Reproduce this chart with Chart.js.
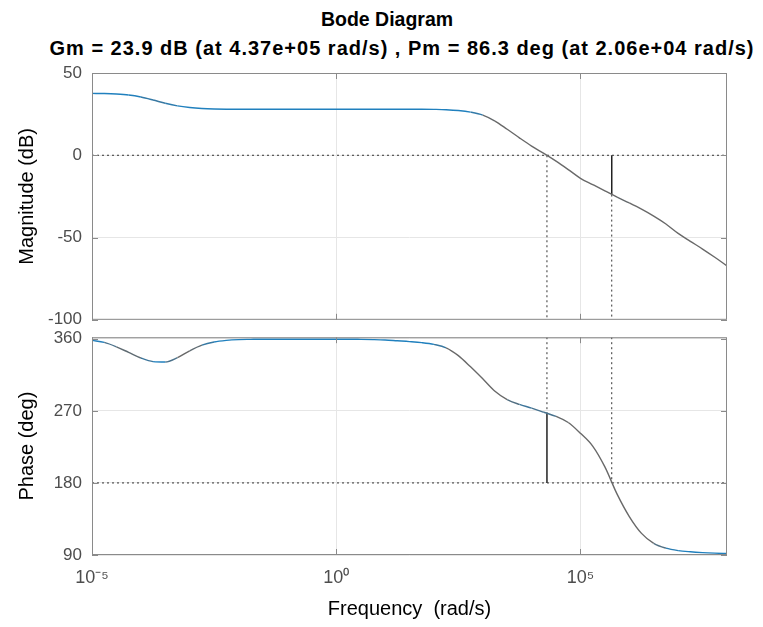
<!DOCTYPE html>
<html>
<head>
<meta charset="utf-8">
<script src="https://cdn.jsdelivr.net/npm/chart.js@4.4.1/dist/chart.umd.min.js"></script>
<style>
  html, body { margin: 0; padding: 0; background: #fff; }
  #wrap { position: relative; width: 763px; height: 627px; overflow: hidden; font-family: "Liberation Sans", Arial, sans-serif; }
  .ttl { position: absolute; text-align: center; font-weight: bold; color: #000; white-space: nowrap; }
  #ttl1 { top: 8px; left: 187px; width: 400px; font-size: 19.5px; }
  #ttl2 { top: 37px; left: 0; width: 804px; font-size: 20px; letter-spacing: 1px; }
  #magChart { position: absolute; left: 0; top: 0; }
  #phaseChart { position: absolute; left: 0; top: 317px; }
</style>
</head>
<body>
<div id="wrap">
  <div class="ttl" id="ttl1">Bode Diagram</div>
  <div class="ttl" id="ttl2">Gm = 23.9 dB (at 4.37e+05 rad/s) ,  Pm = 86.3 deg (at 2.06e+04 rad/s)</div>
  <canvas id="magChart" width="763" height="340"></canvas>
  <canvas id="phaseChart" width="763" height="310"></canvas>
</div>
<script>
// frequency exponents (log10 of rad/s) for the sampled points
const freqExp = [-5, -4.75, -4.5, -4.25, -4, -3.75, -3.5, -3.25, -3, -2.75, -2.5, -2.25, -2, -1.75, -1.5, -1.25, -1, -0.75, -0.5, -0.25,
  0, 0.25, 0.5, 0.75, 1, 1.25, 1.5, 1.75, 2, 2.25, 2.5, 2.75, 3, 3.25, 3.5, 3.75, 4, 4.25, 4.5, 4.75,
  5, 5.25, 5.5, 5.75, 6, 6.25, 6.5, 6.75, 7, 7.25, 7.5, 7.75, 8];
const magDb = [37.6, 37.5, 37.2, 36.6, 35.4, 33.6, 31.6, 30.0, 29.0, 28.4, 28.1, 28.0, 28.0, 28.0, 28.0, 28.0, 28.0, 28.0, 28.0, 28.0,
  28.0, 28.0, 28.0, 28.0, 28.0, 28.0, 28.0, 28.0, 27.9, 27.7, 27.2, 26.2, 24.4, 20.8, 15.8, 10.6, 5.6, 1.1, -3.6, -8.7,
  -14.0, -17.8, -21.6, -25.4, -29.0, -32.8, -37.0, -41.8, -47.5, -52.3, -57.0, -62.0, -67.2];
const phaseDeg = [358, 355.5, 350, 343, 336, 331.5, 331, 336.5, 345, 352, 356, 358, 359, 359.3, 359.5, 359.5, 359.5, 359.5, 359.5, 359.5,
  359.5, 359.5, 359.3, 359, 358.5, 357.5, 356.5, 355.2, 353, 348.8, 339, 325, 310, 294.5, 284, 278, 273.5, 268.3, 263, 255.5,
  242, 226, 200, 166, 138, 117, 104.5, 98.5, 95.5, 94, 93, 92.3, 91.8];

const xTickExp = [-5, 0, 5];
const magTicks = [-100, -50, 0, 50];
const phaseTicks = [90, 180, 270, 360];
const freqMin = 1e-5, freqMax = 1e8;
const magMin = -100, magMax = 50;
const phaseMin = 90, phaseMax = 362;

// margins from the title
const gmDb = 23.9, gmFreq = 4.37e5;
const pmDeg = 86.3, pmFreq = 2.06e4;

const supMap = {'-': '⁻', '0': '⁰', '1': '¹', '2': '²', '3': '³', '4': '⁴', '5': '⁵', '6': '⁶', '7': '⁷', '8': '⁸', '9': '⁹'};
const fmtPow = v => '10' + String(Math.round(Math.log10(v))).split('').map(c => supMap[c]).join('');

// blue where the curve is flat, greyish where it is steep (like the screenshot)
function curveColor(ctx) {
  const dx = Math.abs(ctx.p1.x - ctx.p0.x) || 1;
  const dy = Math.abs(ctx.p1.y - ctx.p0.y);
  const t = Math.min(1, Math.max(0, (dy / dx - 0.15) / 0.35));
  const a = [32, 128, 190], b = [105, 105, 105];
  const c = a.map((v, i) => Math.round(v + (b[i] - v) * t));
  return `rgb(${c[0]},${c[1]},${c[2]})`;
}

const framePlugin = {
  id: 'frame',
  afterDatasetsDraw(chart) {
    const {ctx, chartArea: a, scales} = chart;
    ctx.save();
    ctx.strokeStyle = '#8a8a8a';
    ctx.lineWidth = 1;
    ctx.strokeRect(a.left + 0.5, a.top + 0.5, a.width - 1, a.height - 1);
    ctx.beginPath();
    scales.y.ticks.forEach(t => {
      const y = Math.round(scales.y.getPixelForValue(t.value)) + 0.5;
      ctx.moveTo(a.left, y); ctx.lineTo(a.left + 6, y);
      ctx.moveTo(a.right, y); ctx.lineTo(a.right - 6, y);
    });
    scales.x.ticks.forEach(t => {
      const x = Math.round(scales.x.getPixelForValue(t.value)) + 0.5;
      ctx.moveTo(x, a.bottom); ctx.lineTo(x, a.bottom - 6);
      ctx.moveTo(x, a.top); ctx.lineTo(x, a.top + 6);
    });
    ctx.stroke();
    ctx.restore();
  }
};

const refLine = (pts, dashed) => ({
  data: pts, borderColor: dashed ? '#333' : '#222', borderWidth: dashed ? 1 : 1.5,
  borderDash: dashed ? [2, 3] : [], pointRadius: 0, tension: 0, order: 2
});

const curve = vals => ({
  data: freqExp.map((e, i) => ({x: 10 ** e, y: vals[i]})),
  borderWidth: 1.4, pointRadius: 0, cubicInterpolationMode: 'monotone', order: 0,
  borderColor: '#2080be', segment: {borderColor: curveColor}
});

const gridCfg = {color: '#e6e6e6', drawTicks: false};

function xScale(showLabels) {
  return {
    type: 'logarithmic', min: freqMin, max: freqMax,
    afterBuildTicks: s => { s.ticks = xTickExp.map(e => ({value: 10 ** e})); },
    grid: gridCfg, border: {display: false},
    ticks: {display: showLabels, color: '#4d4d4d', font: {size: 18}, padding: 12, callback: v => fmtPow(v), maxRotation: 0},
    title: {display: showLabels, text: 'Frequency  (rad/s)', color: '#000', font: {size: 20}, padding: {top: 0, bottom: 6}},
    afterFit: s => { s.height = showLabels ? 72 : 0; }
  };
}

function yScale(min, max, ticks, label) {
  return {
    min, max,
    afterBuildTicks: s => { s.ticks = ticks.map(v => ({value: v})); },
    grid: gridCfg, border: {display: false},
    ticks: {color: '#4d4d4d', font: {size: 17}, padding: 10},
    title: {display: true, text: label, color: '#000', font: {size: 20}, padding: {top: 15, bottom: 0}},
    afterFit: s => { s.width = 92; }
  };
}

const baseOpts = {
  responsive: false, animation: false, devicePixelRatio: 1,
  plugins: {legend: {display: false}, tooltip: {enabled: false}},
  elements: {line: {fill: false}}
};

Chart.defaults.font.family = '"Liberation Sans", Arial, sans-serif';

new Chart(document.getElementById('magChart'), {
  type: 'line',
  data: {
    datasets: [
      curve(magDb),
      refLine([{x: freqMin, y: 0}, {x: freqMax, y: 0}], true),
      refLine([{x: pmFreq, y: 0}, {x: pmFreq, y: magMin}], true),
      refLine([{x: gmFreq, y: -gmDb}, {x: gmFreq, y: magMin}], true),
      refLine([{x: gmFreq, y: 0}, {x: gmFreq, y: -gmDb}], false),
    ]
  },
  options: {
    ...baseOpts,
    layout: {padding: {top: 73, right: 36, bottom: 1, left: 0}},
    scales: {x: xScale(false), y: yScale(magMin, magMax, magTicks, 'Magnitude (dB)')}
  },
  plugins: [framePlugin]
});

new Chart(document.getElementById('phaseChart'), {
  type: 'line',
  data: {
    datasets: [
      curve(phaseDeg),
      refLine([{x: freqMin, y: 180}, {x: freqMax, y: 180}], true),
      refLine([{x: pmFreq, y: phaseMax}, {x: pmFreq, y: 180 + pmDeg}], true),
      refLine([{x: gmFreq, y: phaseMax}, {x: gmFreq, y: 180}], true),
      refLine([{x: pmFreq, y: 180}, {x: pmFreq, y: 180 + pmDeg}], false),
    ]
  },
  options: {
    ...baseOpts,
    layout: {padding: {top: 7, right: 36, bottom: 0, left: 0}},
    scales: {x: xScale(true), y: yScale(phaseMin, phaseMax, phaseTicks, 'Phase (deg)')}
  },
  plugins: [framePlugin]
});
</script>
</body>
</html>
